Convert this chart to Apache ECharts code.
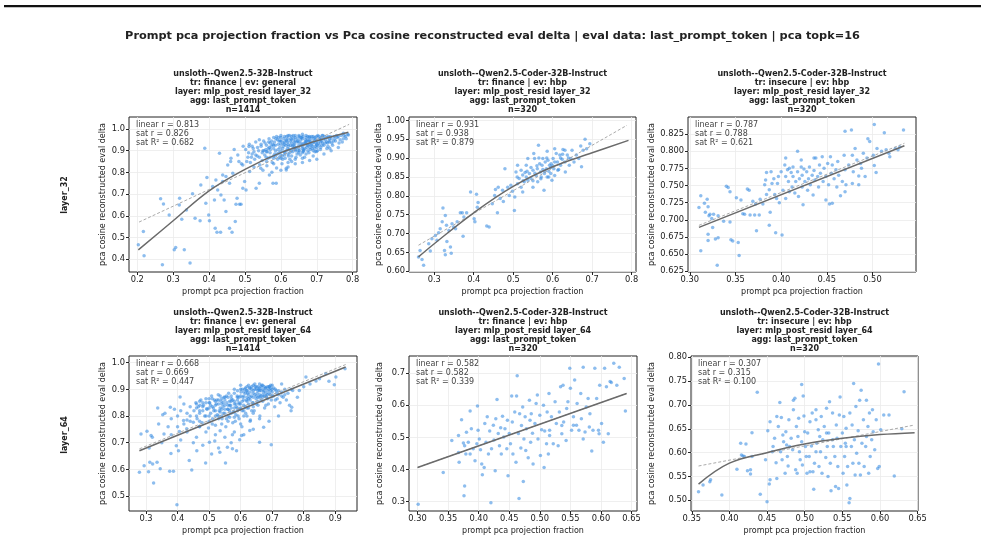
<!DOCTYPE html>
<html>
<head>
<meta charset="utf-8">
<script src="https://cdn.jsdelivr.net/npm/echarts@6/dist/echarts.min.js"></script>
<style>
  html, body { margin: 0; padding: 0; background: #fff; }
  #chart { width: 985px; height: 542px; }
</style>
</head>
<body>
<div id="chart"></div>
<script>
// 总标题与子图标题
const mainTitle = 'Prompt pca projection fraction vs Pca cosine reconstructed eval delta | eval data: last_prompt_token | pca topk=16'
const panelTitles = [
  'unsloth--Qwen2.5-32B-Instruct\ntr: finance | ev: general\nlayer: mlp_post_resid layer_32\nagg: last_prompt_token\nn=1414',
  'unsloth--Qwen2.5-Coder-32B-Instruct\ntr: finance | ev: hbp\nlayer: mlp_post_resid layer_32\nagg: last_prompt_token\nn=320',
  'unsloth--Qwen2.5-Coder-32B-Instruct\ntr: insecure | ev: hbp\nlayer: mlp_post_resid layer_32\nagg: last_prompt_token\nn=320',
  'unsloth--Qwen2.5-32B-Instruct\ntr: finance | ev: general\nlayer: mlp_post_resid layer_64\nagg: last_prompt_token\nn=1414',
  'unsloth--Qwen2.5-Coder-32B-Instruct\ntr: finance | ev: hbp\nlayer: mlp_post_resid layer_64\nagg: last_prompt_token\nn=320',
  'unsloth--Qwen2.5-Coder-32B-Instruct\ntr: insecure | ev: hbp\nlayer: mlp_post_resid layer_64\nagg: last_prompt_token\nn=320'
]
const statTexts = [
  'linear r = 0.813\nsat r = 0.826\nsat R² = 0.682',
  'linear r = 0.931\nsat r = 0.938\nsat R² = 0.879',
  'linear r = 0.787\nsat r = 0.788\nsat R² = 0.621',
  'linear r = 0.668\nsat r = 0.669\nsat R² = 0.447',
  'linear r = 0.582\nsat r = 0.582\nsat R² = 0.339',
  'linear r = 0.307\nsat r = 0.315\nsat R² = 0.100'
]
const rowLabels = ['layer_32', 'layer_64']
const xName = 'prompt pca projection fraction'
const yName = 'pca cosine reconstructed eval delta'

// 坐标轴范围与刻度
const xRanges = [[0.177, 0.812], [0.236, 0.811], [0.298, 0.5477], [0.246, 0.969], [0.286, 0.659], [0.349, 0.6505]]
const yRanges = [[0.341, 1.055], [0.598, 1.009], [0.624, 0.8498], [0.444, 1.025], [0.270, 0.754], [0.4776, 0.8028]]
const xTicks = [
  [0.2, 0.3, 0.4, 0.5, 0.6, 0.7, 0.8],
  [0.3, 0.4, 0.5, 0.6, 0.7, 0.8],
  [0.30, 0.35, 0.40, 0.45, 0.50],
  [0.3, 0.4, 0.5, 0.6, 0.7, 0.8, 0.9],
  [0.30, 0.35, 0.40, 0.45, 0.50, 0.55, 0.60, 0.65],
  [0.35, 0.40, 0.45, 0.50, 0.55, 0.60, 0.65]
]
const yTicks = [
  [0.4, 0.5, 0.6, 0.7, 0.8, 0.9, 1.0],
  [0.60, 0.65, 0.70, 0.75, 0.80, 0.85, 0.90, 0.95, 1.00],
  [0.625, 0.650, 0.675, 0.700, 0.725, 0.750, 0.775, 0.800, 0.825],
  [0.5, 0.6, 0.7, 0.8, 0.9, 1.0],
  [0.3, 0.4, 0.5, 0.6, 0.7],
  [0.50, 0.55, 0.60, 0.65, 0.70, 0.75, 0.80]
]
const xDecimals = [1, 1, 2, 1, 2, 2]
const yDecimals = [1, 2, 3, 1, 1, 2]

// 散点数据
const p1Points = [
  [0.203, 0.466], [0.217, 0.528], [0.219, 0.416], [0.27, 0.374], [0.265, 0.678], [0.273, 0.654], [0.289, 0.604],
  [0.318, 0.681], [0.317, 0.650], [0.307, 0.454], [0.303, 0.443], [0.331, 0.443], [0.347, 0.382], [0.324, 0.584],
  [0.337, 0.627], [0.354, 0.701], [0.361, 0.589], [0.375, 0.577], [0.377, 0.742], [0.388, 0.911], [0.394, 0.776],
  [0.399, 0.604], [0.401, 0.577], [0.391, 0.658], [0.415, 0.673], [0.417, 0.543], [0.422, 0.524], [0.432, 0.524],
  [0.424, 0.719], [0.433, 0.696], [0.438, 0.788], [0.442, 0.673], [0.429, 0.888], [0.447, 0.620], [0.457, 0.543],
  [0.464, 0.524], [0.473, 0.574], [0.475, 0.653], [0.478, 0.681], [0.485, 0.653], [0.489, 0.653], [0.494, 0.727],
  [0.499, 0.758], [0.503, 0.719], [0.511, 0.919], [0.452, 0.834], [0.461, 0.865], [0.466, 0.796], [0.447, 0.781],
  [0.419, 0.765], [0.41, 0.735], [0.438, 0.758], [0.457, 0.75], [0.483, 0.85], [0.494, 0.834], [0.513, 0.804],
  [0.531, 0.727], [0.540, 0.75], [0.544, 0.819], [0.568, 0.788], [0.578, 0.75], [0.587, 0.75], [0.615, 0.811],
  [0.615, 0.819], [0.662, 0.896], [0.699, 0.896], [0.774, 0.980], [0.788, 0.972], [0.736, 0.911],
  [0.502, 0.905], [0.508, 0.87], [0.512, 0.93], [0.515, 0.845], [0.52, 0.885], [0.523, 0.91], [0.527, 0.86],
  [0.53, 0.94], [0.534, 0.875], [0.538, 0.9], [0.541, 0.835], [0.545, 0.92], [0.548, 0.855], [0.552, 0.945],
  [0.555, 0.88], [0.558, 0.905], [0.561, 0.83], [0.564, 0.865], [0.567, 0.955], [0.57, 0.89], [0.573, 0.92],
  [0.576, 0.845], [0.579, 0.875], [0.582, 0.94], [0.585, 0.9], [0.588, 0.82], [0.591, 0.86], [0.594, 0.96],
  [0.597, 0.915], [0.6, 0.88], [0.603, 0.84], [0.606, 0.935], [0.609, 0.895], [0.612, 0.865], [0.615, 0.95],
  [0.618, 0.91], [0.621, 0.875], [0.624, 0.97], [0.627, 0.925], [0.63, 0.85], [0.633, 0.895], [0.636, 0.955],
  [0.639, 0.915], [0.642, 0.87], [0.645, 0.94], [0.648, 0.9], [0.651, 0.965], [0.654, 0.88], [0.657, 0.925],
  [0.66, 0.955], [0.663, 0.905], [0.666, 0.87], [0.669, 0.94], [0.672, 0.915], [0.675, 0.965], [0.678, 0.89],
  [0.681, 0.93], [0.684, 0.955], [0.687, 0.91], [0.69, 0.875], [0.693, 0.945], [0.696, 0.92], [0.699, 0.965],
  [0.702, 0.9], [0.705, 0.935], [0.708, 0.955], [0.711, 0.915], [0.714, 0.945], [0.717, 0.97], [0.72, 0.925],
  [0.724, 0.95], [0.728, 0.91], [0.732, 0.965], [0.736, 0.94], [0.74, 0.955], [0.744, 0.925], [0.748, 0.965],
  [0.752, 0.945], [0.757, 0.96], [0.762, 0.935], [0.768, 0.97], [0.774, 0.955], [0.78, 0.965], [0.786, 0.975],
  [0.585, 0.925], [0.59, 0.95], [0.595, 0.89], [0.6, 0.96], [0.605, 0.91], [0.61, 0.94], [0.615, 0.9],
  [0.62, 0.955], [0.625, 0.89], [0.63, 0.935], [0.635, 0.91], [0.64, 0.96], [0.645, 0.885], [0.65, 0.925],
  [0.655, 0.95], [0.66, 0.89], [0.665, 0.935], [0.67, 0.96], [0.675, 0.9], [0.68, 0.945], [0.685, 0.925],
  [0.69, 0.965], [0.695, 0.895], [0.7, 0.945], [0.62, 0.93], [0.64, 0.945], [0.66, 0.92], [0.68, 0.965],
  [0.7, 0.925], [0.61, 0.965], [0.63, 0.965], [0.65, 0.97], [0.67, 0.97], [0.6, 0.93], [0.58, 0.91],
  [0.56, 0.925], [0.54, 0.95], [0.525, 0.825], [0.55, 0.81], [0.575, 0.8], [0.6, 0.81], [0.62, 0.825],
  [0.64, 0.84], [0.66, 0.845], [0.68, 0.855], [0.7, 0.86], [0.72, 0.885], [0.74, 0.9], [0.76, 0.915],
  [0.48, 0.88], [0.47, 0.905], [0.49, 0.84], [0.46, 0.85], [0.495, 0.92],
  [0.556, 0.935], [0.562, 0.895], [0.568, 0.915], [0.574, 0.945], [0.58, 0.865], [0.586, 0.955], [0.592, 0.905],
  [0.598, 0.945], [0.604, 0.875], [0.608, 0.955], [0.614, 0.925], [0.619, 0.94], [0.623, 0.905], [0.628, 0.955],
  [0.632, 0.92], [0.637, 0.94], [0.641, 0.9], [0.646, 0.955], [0.65, 0.91], [0.656, 0.935], [0.661, 0.965],
  [0.664, 0.9], [0.668, 0.95], [0.673, 0.925], [0.677, 0.945], [0.682, 0.905], [0.686, 0.965], [0.689, 0.935],
  [0.694, 0.91], [0.698, 0.95], [0.703, 0.97], [0.707, 0.925], [0.712, 0.96], [0.716, 0.935], [0.722, 0.965],
  [0.727, 0.94], [0.731, 0.92], [0.738, 0.965], [0.746, 0.945], [0.755, 0.97], [0.765, 0.95], [0.771, 0.94],
  [0.782, 0.955], [0.548, 0.89], [0.535, 0.915], [0.525, 0.895], [0.518, 0.87], [0.51, 0.89], [0.505, 0.85],
  [0.57, 0.87], [0.59, 0.885], [0.61, 0.88], [0.63, 0.875], [0.65, 0.89], [0.67, 0.885], [0.69, 0.9],
  [0.71, 0.905], [0.73, 0.935], [0.6, 0.865], [0.58, 0.84], [0.56, 0.85], [0.62, 0.845], [0.64, 0.86],
  [0.66, 0.865],
  [0.553, 0.9], [0.559, 0.87], [0.566, 0.94], [0.571, 0.905], [0.577, 0.93], [0.583, 0.885], [0.588, 0.965],
  [0.593, 0.93], [0.596, 0.87], [0.601, 0.945], [0.607, 0.92], [0.611, 0.89], [0.616, 0.965], [0.621, 0.92],
  [0.626, 0.945], [0.629, 0.9], [0.634, 0.97], [0.638, 0.93], [0.643, 0.915], [0.647, 0.945], [0.652, 0.9],
  [0.658, 0.96], [0.662, 0.93], [0.667, 0.91], [0.671, 0.945], [0.676, 0.925], [0.679, 0.96], [0.683, 0.94],
  [0.688, 0.92], [0.692, 0.955], [0.697, 0.935], [0.701, 0.915], [0.706, 0.965], [0.71, 0.94], [0.715, 0.925],
  [0.719, 0.955], [0.723, 0.935], [0.729, 0.96], [0.734, 0.945], [0.742, 0.935], [0.75, 0.955], [0.76, 0.965],
  [0.776, 0.97], [0.6, 0.9], [0.62, 0.885], [0.64, 0.905], [0.66, 0.91], [0.68, 0.915], [0.7, 0.93],
  [0.61, 0.93], [0.63, 0.95], [0.65, 0.94], [0.67, 0.935], [0.69, 0.94], [0.71, 0.95], [0.57, 0.935],
  [0.55, 0.9], [0.53, 0.88], [0.52, 0.92], [0.54, 0.87], [0.56, 0.895], [0.58, 0.925], [0.595, 0.945],
  [0.615, 0.945], [0.635, 0.925], [0.655, 0.96], [0.675, 0.95], [0.695, 0.96], [0.715, 0.97], [0.735, 0.955],
  [0.58, 0.96], [0.6, 0.97], [0.62, 0.97], [0.64, 0.97], [0.66, 0.975], [0.545, 0.93], [0.565, 0.91],
  [0.585, 0.875], [0.605, 0.86], [0.625, 0.86]
]
const p2Points = [
  [0.26, 0.638], [0.273, 0.616], [0.264, 0.655], [0.269, 0.631], [0.286, 0.673], [0.290, 0.654], [0.294, 0.686],
  [0.303, 0.695], [0.307, 0.682], [0.311, 0.702], [0.315, 0.713], [0.322, 0.768], [0.320, 0.731], [0.328, 0.748],
  [0.331, 0.722], [0.332, 0.679], [0.326, 0.655], [0.328, 0.644], [0.341, 0.664], [0.343, 0.648], [0.337, 0.708],
  [0.345, 0.726], [0.349, 0.717], [0.354, 0.713], [0.358, 0.731], [0.366, 0.755], [0.371, 0.755], [0.375, 0.744],
  [0.373, 0.693], [0.382, 0.755], [0.392, 0.810], [0.401, 0.739], [0.403, 0.731], [0.407, 0.804], [0.409, 0.770],
  [0.411, 0.782], [0.433, 0.720], [0.439, 0.717], [0.447, 0.779], [0.453, 0.801], [0.455, 0.817], [0.460, 0.755],
  [0.462, 0.823], [0.467, 0.793], [0.473, 0.815], [0.479, 0.872], [0.475, 0.785], [0.486, 0.823], [0.490, 0.801],
  [0.494, 0.828], [0.498, 0.812], [0.503, 0.761], [0.504, 0.797], [0.511, 0.832], [0.511, 0.881], [0.515, 0.846],
  [0.520, 0.823], [0.524, 0.855], [0.528, 0.837], [0.530, 0.862], [0.533, 0.850], [0.537, 0.841], [0.541, 0.859],
  [0.545, 0.846], [0.550, 0.868], [0.552, 0.912], [0.554, 0.899], [0.558, 0.854], [0.561, 0.872], [0.564, 0.934],
  [0.567, 0.885], [0.569, 0.863], [0.573, 0.881], [0.575, 0.899], [0.578, 0.815], [0.579, 0.859], [0.581, 0.890],
  [0.584, 0.872], [0.586, 0.850], [0.588, 0.894], [0.590, 0.865], [0.592, 0.881], [0.595, 0.859], [0.596, 0.885],
  [0.598, 0.841], [0.601, 0.899], [0.603, 0.872], [0.605, 0.854], [0.609, 0.912], [0.612, 0.890], [0.613, 0.868],
  [0.618, 0.908], [0.620, 0.881], [0.624, 0.897], [0.626, 0.923], [0.631, 0.890], [0.632, 0.863], [0.637, 0.908],
  [0.642, 0.881], [0.646, 0.899], [0.649, 0.921], [0.654, 0.890], [0.660, 0.908], [0.666, 0.899], [0.671, 0.932],
  [0.673, 0.877], [0.677, 0.921], [0.682, 0.950], [0.686, 0.925], [0.694, 0.938], [0.631, 0.921], [0.605, 0.925],
  [0.586, 0.918], [0.537, 0.899], [0.533, 0.881], [0.520, 0.868], [0.507, 0.863], [0.524, 0.810], [0.550, 0.823],
  [0.562, 0.837], [0.571, 0.850],
  [0.545, 0.875], [0.555, 0.86], [0.565, 0.9], [0.575, 0.87], [0.585, 0.9], [0.595, 0.875], [0.605, 0.89],
  [0.615, 0.87], [0.625, 0.91], [0.535, 0.865], [0.525, 0.84], [0.56, 0.88], [0.58, 0.865], [0.6, 0.88],
  [0.62, 0.9], [0.64, 0.9], [0.59, 0.85], [0.57, 0.845], [0.55, 0.84], [0.51, 0.85]
]
const p3Points = [
  [0.310, 0.718], [0.312, 0.735], [0.312, 0.655], [0.316, 0.724], [0.317, 0.711], [0.319, 0.730], [0.320, 0.719],
  [0.320, 0.679], [0.320, 0.670], [0.321, 0.706], [0.322, 0.708], [0.324, 0.702], [0.326, 0.708], [0.325, 0.689],
  [0.328, 0.672], [0.330, 0.634], [0.331, 0.674], [0.331, 0.706], [0.337, 0.698], [0.340, 0.749], [0.342, 0.747],
  [0.344, 0.741], [0.344, 0.697], [0.345, 0.671], [0.347, 0.669], [0.351, 0.732], [0.353, 0.667], [0.354, 0.648],
  [0.356, 0.729], [0.358, 0.709], [0.360, 0.708], [0.363, 0.745], [0.365, 0.743], [0.366, 0.707], [0.369, 0.727],
  [0.371, 0.707], [0.372, 0.723], [0.373, 0.684], [0.376, 0.707], [0.377, 0.730], [0.380, 0.723], [0.382, 0.751],
  [0.383, 0.758], [0.384, 0.737], [0.387, 0.744], [0.387, 0.692], [0.388, 0.711], [0.389, 0.770], [0.390, 0.753],
  [0.392, 0.760], [0.393, 0.737], [0.394, 0.681], [0.395, 0.731], [0.396, 0.753], [0.397, 0.763], [0.398, 0.725],
  [0.400, 0.770], [0.401, 0.678], [0.402, 0.743], [0.404, 0.780], [0.405, 0.763], [0.405, 0.731], [0.407, 0.773],
  [0.408, 0.756], [0.409, 0.741], [0.411, 0.769], [0.412, 0.748], [0.413, 0.763], [0.413, 0.777], [0.415, 0.739],
  [0.416, 0.756], [0.418, 0.800], [0.418, 0.770], [0.419, 0.734], [0.420, 0.760], [0.422, 0.777], [0.423, 0.748],
  [0.423, 0.765], [0.424, 0.722], [0.425, 0.774], [0.426, 0.756], [0.428, 0.770], [0.429, 0.743], [0.430, 0.760],
  [0.431, 0.777], [0.432, 0.751], [0.434, 0.765], [0.435, 0.736], [0.436, 0.772], [0.437, 0.758], [0.438, 0.790],
  [0.440, 0.763], [0.441, 0.748], [0.442, 0.780], [0.443, 0.768], [0.445, 0.792], [0.446, 0.756], [0.447, 0.775],
  [0.449, 0.729], [0.449, 0.763], [0.451, 0.782], [0.452, 0.751], [0.453, 0.723], [0.454, 0.792], [0.455, 0.768],
  [0.456, 0.780], [0.458, 0.760], [0.460, 0.773], [0.461, 0.748], [0.462, 0.785], [0.463, 0.765], [0.465, 0.735],
  [0.467, 0.756], [0.469, 0.794], [0.470, 0.773], [0.470, 0.829], [0.471, 0.751], [0.474, 0.780], [0.477, 0.831],
  [0.478, 0.794], [0.479, 0.770], [0.481, 0.804], [0.483, 0.787], [0.485, 0.764], [0.487, 0.782], [0.488, 0.775],
  [0.490, 0.797], [0.492, 0.763], [0.494, 0.790], [0.495, 0.818], [0.497, 0.814], [0.501, 0.794], [0.502, 0.839],
  [0.502, 0.779], [0.504, 0.769], [0.505, 0.804], [0.510, 0.800], [0.513, 0.827], [0.515, 0.802], [0.518, 0.797],
  [0.519, 0.792], [0.525, 0.804], [0.528, 0.802], [0.530, 0.806], [0.534, 0.831], [0.456, 0.724], [0.470, 0.741],
  [0.478, 0.753], [0.485, 0.751], [0.436, 0.790], [0.422, 0.787], [0.409, 0.775], [0.405, 0.790], [0.384, 0.769]
]
const p4Points = [
  [0.279, 0.589], [0.284, 0.733], [0.294, 0.614], [0.303, 0.743], [0.308, 0.591], [0.312, 0.627], [0.316, 0.727],
  [0.324, 0.549], [0.321, 0.620], [0.335, 0.627], [0.337, 0.830], [0.345, 0.602], [0.353, 0.805], [0.357, 0.733],
  [0.375, 0.593], [0.379, 0.660], [0.377, 0.833], [0.387, 0.593], [0.396, 0.689], [0.398, 0.467], [0.403, 0.670],
  [0.406, 0.742], [0.408, 0.871], [0.419, 0.783], [0.429, 0.752], [0.437, 0.633], [0.445, 0.598], [0.450, 0.777],
  [0.461, 0.670], [0.469, 0.761], [0.471, 0.840], [0.489, 0.624], [0.492, 0.827], [0.501, 0.702], [0.508, 0.658],
  [0.518, 0.706], [0.534, 0.664], [0.552, 0.624], [0.558, 0.683], [0.574, 0.677], [0.587, 0.670], [0.597, 0.711],
  [0.603, 0.727], [0.629, 0.746], [0.660, 0.702], [0.673, 0.758], [0.697, 0.692], [0.755, 0.840], [0.762, 0.833],
  [0.807, 0.946], [0.839, 0.931], [0.870, 0.959], [0.897, 0.917], [0.902, 0.946], [0.931, 0.977], [0.786, 0.896],
  [0.765, 0.896],
  [0.452, 0.82], [0.458, 0.85], [0.462, 0.79], [0.466, 0.835], [0.47, 0.81], [0.474, 0.86], [0.478, 0.775],
  [0.482, 0.84], [0.486, 0.8], [0.49, 0.865], [0.494, 0.825], [0.498, 0.755], [0.502, 0.85], [0.505, 0.81],
  [0.508, 0.875], [0.511, 0.79], [0.514, 0.83], [0.517, 0.86], [0.52, 0.765], [0.523, 0.845], [0.526, 0.805],
  [0.529, 0.88], [0.532, 0.82], [0.535, 0.745], [0.538, 0.855], [0.541, 0.79], [0.544, 0.835], [0.547, 0.87],
  [0.55, 0.81], [0.553, 0.76], [0.556, 0.85], [0.559, 0.825], [0.562, 0.885], [0.565, 0.795], [0.568, 0.84],
  [0.571, 0.865], [0.574, 0.73], [0.577, 0.815], [0.58, 0.855], [0.583, 0.78], [0.586, 0.835], [0.589, 0.875],
  [0.592, 0.8], [0.595, 0.85], [0.598, 0.825], [0.601, 0.89], [0.604, 0.76], [0.607, 0.87], [0.61, 0.84],
  [0.613, 0.9], [0.616, 0.81], [0.619, 0.86], [0.622, 0.885], [0.625, 0.83], [0.628, 0.905], [0.631, 0.785],
  [0.634, 0.875], [0.637, 0.85], [0.64, 0.895], [0.643, 0.82], [0.646, 0.91], [0.649, 0.865], [0.652, 0.885],
  [0.655, 0.84], [0.658, 0.9], [0.661, 0.8], [0.664, 0.875], [0.667, 0.915], [0.67, 0.855], [0.673, 0.89],
  [0.676, 0.83], [0.679, 0.905], [0.682, 0.87], [0.685, 0.895], [0.688, 0.845], [0.691, 0.91], [0.694, 0.88],
  [0.697, 0.86], [0.7, 0.9], [0.704, 0.875], [0.708, 0.835], [0.712, 0.895], [0.716, 0.865], [0.72, 0.88],
  [0.725, 0.85], [0.73, 0.89], [0.735, 0.87], [0.74, 0.9], [0.745, 0.86], [0.75, 0.885],
  [0.55, 0.84], [0.56, 0.87], [0.57, 0.83], [0.58, 0.885], [0.59, 0.86], [0.6, 0.845], [0.61, 0.875],
  [0.62, 0.855], [0.63, 0.89], [0.64, 0.87], [0.65, 0.9], [0.66, 0.88], [0.67, 0.9], [0.68, 0.885],
  [0.69, 0.9], [0.6, 0.9], [0.62, 0.91], [0.64, 0.915], [0.66, 0.92], [0.58, 0.9], [0.54, 0.865],
  [0.52, 0.855], [0.5, 0.83], [0.48, 0.82], [0.46, 0.8], [0.44, 0.835], [0.43, 0.81], [0.42, 0.845],
  [0.41, 0.82], [0.4, 0.8], [0.39, 0.825], [0.38, 0.79], [0.36, 0.81], [0.44, 0.78], [0.42, 0.77],
  [0.47, 0.76], [0.5, 0.78], [0.53, 0.8], [0.56, 0.8], [0.59, 0.82], [0.62, 0.83], [0.65, 0.845],
  [0.68, 0.84], [0.71, 0.86], [0.55, 0.72], [0.58, 0.74], [0.6, 0.77], [0.63, 0.78], [0.66, 0.79],
  [0.52, 0.73], [0.49, 0.74], [0.46, 0.72], [0.43, 0.74], [0.4, 0.76], [0.37, 0.76], [0.34, 0.77],
  [0.32, 0.72], [0.31, 0.68], [0.35, 0.70], [0.38, 0.73], [0.41, 0.71], [0.45, 0.7], [0.48, 0.69],
  [0.53, 0.68], [0.57, 0.7], [0.61, 0.73], [0.64, 0.75], [0.69, 0.78], [0.72, 0.8], [0.76, 0.82],
  [0.78, 0.87], [0.8, 0.91], [0.82, 0.92], [0.85, 0.94], [0.88, 0.93], [0.76, 0.9], [0.73, 0.92],
  [0.7, 0.915], [0.62, 0.8], [0.54, 0.77], [0.47, 0.78],
  [0.505, 0.84], [0.515, 0.82], [0.525, 0.86], [0.535, 0.83], [0.545, 0.85], [0.555, 0.875], [0.565, 0.82],
  [0.575, 0.86], [0.585, 0.845], [0.595, 0.87], [0.605, 0.82], [0.615, 0.885], [0.625, 0.865], [0.635, 0.9],
  [0.645, 0.88], [0.655, 0.91], [0.665, 0.895], [0.675, 0.875], [0.685, 0.91], [0.695, 0.895], [0.705, 0.905],
  [0.715, 0.885], [0.545, 0.81], [0.565, 0.855], [0.585, 0.805], [0.605, 0.855], [0.625, 0.88], [0.645, 0.9],
  [0.665, 0.86], [0.685, 0.865], [0.535, 0.875], [0.555, 0.79], [0.575, 0.775], [0.595, 0.79], [0.615, 0.835],
  [0.635, 0.82], [0.655, 0.87], [0.675, 0.91], [0.695, 0.915], [0.6, 0.915], [0.62, 0.895], [0.48, 0.85],
  [0.49, 0.8], [0.51, 0.77], [0.53, 0.79], [0.57, 0.81], [0.61, 0.8], [0.64, 0.81], [0.5, 0.865],
  [0.52, 0.84], [0.46, 0.83], [0.47, 0.855], [0.44, 0.8], [0.43, 0.785], [0.58, 0.83], [0.56, 0.825],
  [0.54, 0.845], [0.66, 0.905], [0.63, 0.86], [0.59, 0.895],
  [0.5, 0.85], [0.51, 0.865], [0.52, 0.82], [0.53, 0.845], [0.54, 0.825], [0.55, 0.86], [0.56, 0.84],
  [0.57, 0.875], [0.58, 0.845], [0.59, 0.83], [0.6, 0.875], [0.61, 0.86], [0.62, 0.895], [0.63, 0.87],
  [0.64, 0.885], [0.65, 0.875], [0.66, 0.895], [0.67, 0.88], [0.68, 0.905], [0.69, 0.885], [0.7, 0.89],
  [0.71, 0.9], [0.605, 0.9], [0.615, 0.905], [0.625, 0.915], [0.635, 0.91], [0.645, 0.92], [0.655, 0.895],
  [0.665, 0.91], [0.675, 0.895], [0.685, 0.88], [0.695, 0.905], [0.52, 0.8], [0.535, 0.815], [0.55, 0.825],
  [0.565, 0.84], [0.58, 0.815], [0.595, 0.845], [0.61, 0.82], [0.625, 0.845], [0.64, 0.835], [0.655, 0.855],
  [0.67, 0.87], [0.48, 0.835], [0.49, 0.85], [0.51, 0.835], [0.53, 0.86], [0.55, 0.87], [0.57, 0.855],
  [0.59, 0.87], [0.47, 0.82], [0.46, 0.845], [0.5, 0.8], [0.54, 0.8], [0.56, 0.78], [0.58, 0.795],
  [0.6, 0.83], [0.62, 0.87], [0.64, 0.85], [0.66, 0.87], [0.68, 0.875], [0.7, 0.875], [0.72, 0.895],
  [0.73, 0.875], [0.74, 0.88], [0.61, 0.89], [0.63, 0.905], [0.65, 0.91], [0.67, 0.915], [0.69, 0.91]
]
const p5Points = [
  [0.301, 0.291], [0.342, 0.390], [0.356, 0.490], [0.367, 0.506], [0.367, 0.453], [0.368, 0.422], [0.372, 0.555],
  [0.376, 0.318], [0.377, 0.348], [0.375, 0.482], [0.377, 0.474], [0.379, 0.448], [0.380, 0.516], [0.383, 0.485],
  [0.386, 0.582], [0.386, 0.448], [0.388, 0.527], [0.391, 0.464], [0.394, 0.427], [0.397, 0.480], [0.398, 0.598],
  [0.399, 0.522], [0.401, 0.495], [0.403, 0.461], [0.405, 0.417], [0.406, 0.383], [0.409, 0.406], [0.410, 0.543],
  [0.412, 0.485], [0.414, 0.564], [0.416, 0.448], [0.418, 0.520], [0.420, 0.296], [0.421, 0.464], [0.424, 0.538],
  [0.425, 0.492], [0.427, 0.396], [0.428, 0.558], [0.430, 0.618], [0.432, 0.512], [0.434, 0.474], [0.436, 0.530],
  [0.437, 0.448], [0.439, 0.566], [0.441, 0.501], [0.443, 0.527], [0.446, 0.464], [0.447, 0.553], [0.448, 0.380],
  [0.450, 0.512], [0.452, 0.480], [0.454, 0.629], [0.455, 0.548], [0.456, 0.448], [0.459, 0.579], [0.461, 0.422],
  [0.462, 0.629], [0.463, 0.692], [0.465, 0.512], [0.466, 0.309], [0.467, 0.574], [0.469, 0.467], [0.470, 0.537],
  [0.472, 0.595], [0.473, 0.362], [0.474, 0.495], [0.476, 0.564], [0.477, 0.459], [0.478, 0.527], [0.481, 0.436],
  [0.483, 0.616], [0.484, 0.553], [0.485, 0.485], [0.486, 0.574], [0.488, 0.513], [0.489, 0.417], [0.492, 0.543],
  [0.494, 0.606], [0.496, 0.632], [0.497, 0.495], [0.500, 0.569], [0.501, 0.443], [0.503, 0.524], [0.506, 0.600],
  [0.507, 0.406], [0.508, 0.520], [0.511, 0.480], [0.512, 0.579], [0.514, 0.448], [0.515, 0.637], [0.516, 0.522],
  [0.519, 0.564], [0.522, 0.480], [0.525, 0.611], [0.527, 0.543], [0.530, 0.474], [0.532, 0.579], [0.534, 0.658],
  [0.536, 0.511], [0.538, 0.663], [0.539, 0.548], [0.543, 0.490], [0.544, 0.590], [0.546, 0.611], [0.549, 0.716],
  [0.550, 0.653], [0.552, 0.522], [0.555, 0.564], [0.557, 0.679], [0.560, 0.538], [0.561, 0.606], [0.564, 0.522],
  [0.567, 0.637], [0.568, 0.558], [0.571, 0.719], [0.574, 0.517], [0.576, 0.595], [0.579, 0.621], [0.582, 0.574],
  [0.585, 0.457], [0.587, 0.522], [0.590, 0.716], [0.593, 0.621], [0.596, 0.522], [0.597, 0.511], [0.598, 0.663],
  [0.601, 0.543], [0.604, 0.485], [0.606, 0.716], [0.609, 0.658], [0.612, 0.511], [0.615, 0.674], [0.617, 0.671],
  [0.621, 0.731], [0.626, 0.663], [0.630, 0.719], [0.638, 0.684], [0.640, 0.582], [0.581, 0.532], [0.571, 0.495],
  [0.555, 0.538], [0.536, 0.537], [0.516, 0.506]
]
const p6Points = [
  [0.359, 0.518], [0.365, 0.532], [0.374, 0.539], [0.375, 0.543], [0.390, 0.511], [0.410, 0.565], [0.415, 0.620],
  [0.416, 0.595], [0.418, 0.593], [0.420, 0.592], [0.422, 0.618], [0.424, 0.562], [0.428, 0.555], [0.428, 0.564],
  [0.430, 0.642], [0.430, 0.592], [0.437, 0.727], [0.441, 0.513], [0.448, 0.585], [0.450, 0.497], [0.451, 0.646],
  [0.454, 0.665], [0.453, 0.534], [0.454, 0.543], [0.457, 0.602], [0.458, 0.613], [0.460, 0.630], [0.462, 0.579],
  [0.463, 0.546], [0.463, 0.676], [0.465, 0.655], [0.467, 0.705], [0.468, 0.602], [0.469, 0.674], [0.470, 0.585],
  [0.471, 0.637], [0.472, 0.623], [0.474, 0.557], [0.475, 0.644], [0.477, 0.592], [0.478, 0.572], [0.479, 0.669],
  [0.480, 0.613], [0.482, 0.630], [0.484, 0.606], [0.485, 0.710], [0.485, 0.690], [0.487, 0.714], [0.488, 0.564],
  [0.489, 0.655], [0.490, 0.557], [0.491, 0.634], [0.492, 0.672], [0.493, 0.602], [0.494, 0.585], [0.496, 0.743],
  [0.496, 0.623], [0.497, 0.574], [0.498, 0.719], [0.499, 0.677], [0.500, 0.644], [0.501, 0.613], [0.503, 0.557],
  [0.504, 0.641], [0.506, 0.592], [0.507, 0.560], [0.507, 0.665], [0.509, 0.614], [0.510, 0.683], [0.511, 0.560],
  [0.512, 0.523], [0.513, 0.578], [0.515, 0.602], [0.515, 0.669], [0.516, 0.620], [0.518, 0.648], [0.519, 0.571],
  [0.520, 0.634], [0.521, 0.602], [0.522, 0.676], [0.523, 0.557], [0.524, 0.627], [0.526, 0.655], [0.528, 0.590],
  [0.529, 0.693], [0.530, 0.613], [0.531, 0.550], [0.532, 0.641], [0.533, 0.707], [0.534, 0.578], [0.535, 0.520],
  [0.537, 0.627], [0.537, 0.683], [0.538, 0.613], [0.540, 0.592], [0.541, 0.529], [0.542, 0.658], [0.543, 0.630],
  [0.544, 0.571], [0.545, 0.525], [0.546, 0.679], [0.547, 0.717], [0.548, 0.613], [0.550, 0.641], [0.551, 0.557],
  [0.552, 0.676], [0.553, 0.592], [0.554, 0.620], [0.555, 0.651], [0.556, 0.532], [0.557, 0.571], [0.559, 0.495],
  [0.560, 0.683], [0.560, 0.504], [0.562, 0.613], [0.563, 0.658], [0.564, 0.578], [0.565, 0.745], [0.566, 0.627],
  [0.567, 0.553], [0.568, 0.697], [0.569, 0.599], [0.571, 0.646], [0.572, 0.578], [0.573, 0.710], [0.574, 0.553],
  [0.575, 0.731], [0.576, 0.620], [0.578, 0.669], [0.579, 0.571], [0.581, 0.613], [0.582, 0.710], [0.582, 0.634],
  [0.584, 0.655], [0.585, 0.557], [0.586, 0.683], [0.587, 0.592], [0.589, 0.627], [0.590, 0.690], [0.591, 0.644],
  [0.593, 0.606], [0.595, 0.669], [0.597, 0.567], [0.598, 0.786], [0.599, 0.571], [0.601, 0.648], [0.605, 0.679],
  [0.612, 0.679], [0.619, 0.551], [0.632, 0.728], [0.629, 0.650], [0.476, 0.616], [0.502, 0.592], [0.529, 0.641],
  [0.555, 0.613], [0.515, 0.690]
]
const panelPoints = [p1Points, p2Points, p3Points, p4Points, p5Points, p6Points]

// 拟合线 (饱和曲线为实线, 线性为虚线)
const satFits = [
  [[0.203, 0.443], [0.3, 0.577], [0.4, 0.715], [0.5, 0.814], [0.6, 0.891], [0.7, 0.945], [0.788, 0.985]],
  [[0.26, 0.638], [0.3, 0.673], [0.4, 0.755], [0.5, 0.825], [0.6, 0.877], [0.7, 0.914], [0.792, 0.947]],
  [[0.310, 0.689], [0.535, 0.808]],
  [[0.279, 0.670], [0.933, 0.984]],
  [[0.30, 0.406], [0.642, 0.637]],
  [[0.359, 0.534], [0.40, 0.578], [0.45, 0.600], [0.50, 0.618], [0.55, 0.630], [0.60, 0.638], [0.646, 0.642]]
]
const linFits = [
  [[0.205, 0.571], [0.790, 1.021]],
  [[0.26, 0.669], [0.788, 0.987]],
  [[0.310, 0.692], [0.535, 0.8115]],
  [[0.279, 0.677], [0.933, 0.993]],
  [[0.30, 0.406], [0.642, 0.637]],
  [[0.359, 0.572], [0.646, 0.658]]
]

// 版面位置
const grids = [
  { left: 129, top: 117, width: 228, height: 155 },
  { left: 409, top: 117, width: 227, height: 155 },
  { left: 688, top: 117, width: 228, height: 155 },
  { left: 129, top: 356, width: 228, height: 155 },
  { left: 409, top: 356, width: 228, height: 155 },
  { left: 691, top: 356, width: 227, height: 155 }
]
const yNameGaps = [22, 25, 32, 22, 25, 35]
const font = 'DejaVu Sans'

const chart = echarts.init(document.getElementById('chart'), null, { renderer: 'canvas' })

const option = {
  backgroundColor: '#fff',
  animation: false,
  title: [
    {
      text: mainTitle, left: 'center', top: 31, padding: 0,
      textStyle: { fontFamily: font, fontSize: 11.3, fontWeight: 'bold', color: '#222' }
    }
  ].concat(panelTitles.map((t, i) => ({
    text: t,
    left: grids[i].left + grids[i].width / 2,
    top: grids[i].top - 48,
    padding: 0,
    textAlign: 'center',
    textStyle: { fontFamily: font, fontSize: 8, fontWeight: 'bold', color: '#222', lineHeight: 9.2 }
  }))),
  grid: grids.map(g => Object.assign({ show: true, borderColor: '#222', borderWidth: 1, backgroundColor: 'transparent' }, g)),
  xAxis: grids.map((g, i) => ({
    type: 'value', gridIndex: i,
    min: xRanges[i][0], max: xRanges[i][1],
    name: xName, nameLocation: 'middle', nameGap: 16,
    nameTextStyle: { fontFamily: font, fontSize: 8, color: '#222' },
    axisLine: { show: false },
    axisTick: { show: true, length: 3, lineStyle: { color: '#222' }, customValues: xTicks[i] },
    axisLabel: {
      fontFamily: font, fontSize: 8.3, color: '#222', margin: 4,
      customValues: xTicks[i],
      formatter: v => v.toFixed(xDecimals[i])
    },
    splitLine: { show: true, lineStyle: { color: '#ebebeb', width: 0.8 } }
  })),
  yAxis: grids.map((g, i) => ({
    type: 'value', gridIndex: i,
    min: yRanges[i][0], max: yRanges[i][1],
    name: yName, nameLocation: 'middle', nameGap: yNameGaps[i],
    nameTextStyle: { fontFamily: font, fontSize: 8, color: '#222' },
    axisLine: { show: false },
    axisTick: { show: true, length: 3, lineStyle: { color: '#222' }, customValues: yTicks[i] },
    axisLabel: {
      fontFamily: font, fontSize: 8.3, color: '#222', margin: 4,
      customValues: yTicks[i],
      formatter: v => v.toFixed(yDecimals[i])
    },
    splitLine: { show: true, lineStyle: { color: '#ebebeb', width: 0.8 } }
  })),
  series: [],
  graphic: [
    { type: 'rect', left: 4, top: 5, shape: { width: 977, height: 2.2 }, style: { fill: '#111' } }
  ]
}

panelPoints.forEach((pts, i) => {
  option.series.push({
    type: 'scatter', xAxisIndex: i, yAxisIndex: i,
    data: pts, symbolSize: 3.5,
    itemStyle: { color: '#2f86e0', opacity: 0.55 },
    z: 2
  })
  option.series.push({
    type: 'line', xAxisIndex: i, yAxisIndex: i,
    data: linFits[i], showSymbol: false, symbol: 'none',
    lineStyle: { color: '#a0a0a0', width: 0.9, type: [3, 2] },
    z: 3
  })
  option.series.push({
    type: 'line', xAxisIndex: i, yAxisIndex: i,
    data: satFits[i], showSymbol: false, symbol: 'none', smooth: 0.4,
    lineStyle: { color: '#6a6a6a', width: 1.5 },
    z: 4
  })
  option.graphic.push({
    type: 'text', left: grids[i].left + 7, top: grids[i].top + 4, z: 10,
    style: { text: statTexts[i], font: '8px ' + font, fill: '#444', lineHeight: 8.8 }
  })
})

rowLabels.forEach((t, r) => {
  option.graphic.push({
    type: 'text', x: 65, y: r === 0 ? 195 : 435, rotation: Math.PI / 2,
    style: { text: t, font: 'bold 8px ' + font, fill: '#222', align: 'center', verticalAlign: 'middle' }
  })
})

chart.setOption(option)
</script>
</body>
</html>
